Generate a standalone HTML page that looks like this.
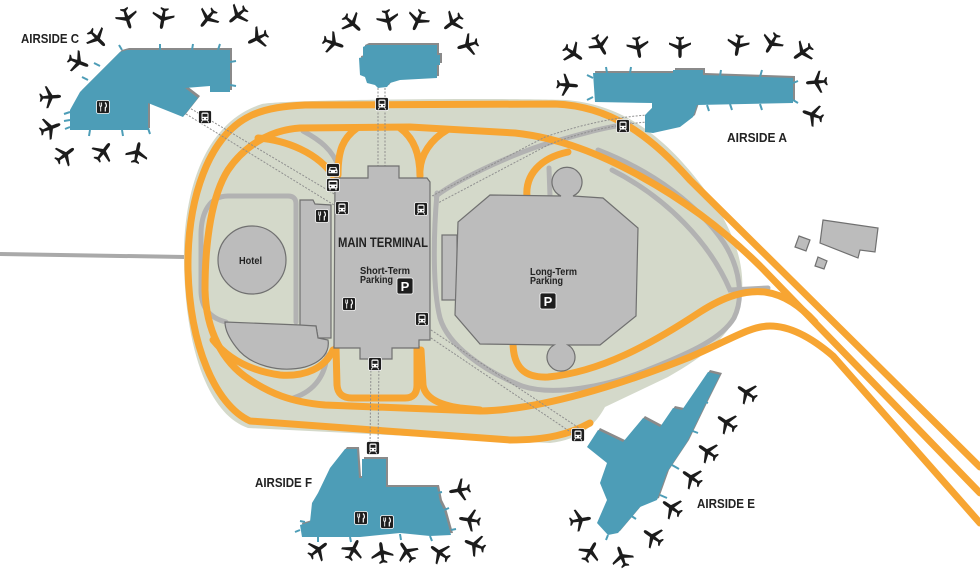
<!DOCTYPE html>
<html><head><meta charset="utf-8"><style>
html,body{margin:0;padding:0;background:#fff;}
svg{display:block;}
text{font-family:"Liberation Sans",Arial,sans-serif;font-weight:bold;fill:#222;}
</style></head><body>
<svg width="980" height="575" viewBox="0 0 980 575" xmlns="http://www.w3.org/2000/svg">
<defs>
<path id="pl" fill="#1c1c1c" d="M0,-11 C1.3,-11 1.7,-9.5 1.7,-7 L1.7,-2.5 L11,2.5 L11,4.5 L1.7,1.5 L1.2,7 L4,9 L4,10.5 L0,9.5 L-4,10.5 L-4,9 L-1.2,7 L-1.7,1.5 L-11,4.5 L-11,2.5 L-1.7,-2.5 L-1.7,-7 C-1.7,-9.5 -1.3,-11 0,-11 Z"/>
<g id="tr">
<rect x="-6.5" y="-6.5" width="13" height="13" rx="2" fill="#1e1e1e" stroke="#fff" stroke-width="0.8"/>
<rect x="-3.5" y="-4.5" width="7" height="8" rx="1.5" fill="#fff"/>
<rect x="-2.5" y="-3.2" width="5" height="3" fill="#1e1e1e"/>
<circle cx="-1.8" cy="1.6" r="0.7" fill="#1e1e1e"/><circle cx="1.8" cy="1.6" r="0.7" fill="#1e1e1e"/>
<path d="M-2.5,3.5 L-3.8,5.5 M2.5,3.5 L3.8,5.5" stroke="#fff" stroke-width="0.9"/>
</g>
<g id="rs">
<rect x="-6.5" y="-6.5" width="13" height="13" rx="2" fill="#1e1e1e" stroke="#fff" stroke-width="0.8"/>
<path d="M-3.2,-4.5 V-0.8 M-1.4,-4.5 V-0.8 M-3.2,-0.8 H-1.4 M-2.3,-0.8 V4.5" stroke="#fff" stroke-width="0.9" fill="none"/>
<path d="M2,-4.5 C3.8,-3 3.8,0 2.3,0.6 V4.5" stroke="#fff" stroke-width="1.2" fill="none"/>
</g>
<g id="car">
<rect x="-6.5" y="-6.5" width="13" height="13" rx="2" fill="#1e1e1e" stroke="#fff" stroke-width="0.8"/>
<path d="M-4.5,0.5 L-3.2,-3 H3.2 L4.5,0.5 V3.2 H-4.5 Z" fill="#fff"/>
<rect x="-2.6" y="-2.2" width="5.2" height="2" fill="#1e1e1e"/>
<circle cx="-2.8" cy="1.5" r="0.8" fill="#1e1e1e"/><circle cx="2.8" cy="1.5" r="0.8" fill="#1e1e1e"/>
</g>
<g id="bus">
<rect x="-6.5" y="-6.5" width="13" height="13" rx="2" fill="#1e1e1e" stroke="#fff" stroke-width="0.8"/>
<rect x="-4.5" y="-4.5" width="9" height="8" rx="1" fill="#fff"/>
<rect x="-3.5" y="-3" width="7" height="2.5" fill="#1e1e1e"/>
<circle cx="-2.5" cy="1.6" r="0.7" fill="#1e1e1e"/><circle cx="2.5" cy="1.6" r="0.7" fill="#1e1e1e"/>
<path d="M-3,3.5 V5.2 M3,3.5 V5.2" stroke="#fff" stroke-width="1.2"/>
</g>
</defs>

<rect width="980" height="575" fill="#fff"/>

<!-- entrance road -->
<path d="M0,254 L185,257 C196,257 201,250 201,238" stroke="#a9a9a9" stroke-width="4" fill="none"/>

<!-- land -->
<path d="M184,262 C183,190 205,122 262,104 C290,99 520,98 565,100 C625,104 668,140 705,190 C735,230 748,270 740,305 C732,335 705,356 668,377 L605,407 C596,424 580,440 550,443 L248,428 C205,413 185,340 184,262 Z" fill="#d4d9ca"/>

<!-- gray roads -->
<g stroke="#b2b2b2" stroke-width="5" fill="none" stroke-linecap="round">
<path d="M296,322 L296,204 Q296,196 288,196 L228,196 C210,196 201,212 201,235 L201,290 C201,308 210,318 226,322"/>
<path d="M303,131 C320,140 333,150 339,168"/>
<path d="M290,399 C312,393 325,378 327,355"/>
<path d="M437,193 C433,240 433,290 440,318 C448,345 482,370 522,386 C552,396 605,388 652,368 C692,352 722,338 734,318 C744,298 740,268 724,243 C700,207 655,172 598,150"/>
<path d="M436,196 C460,178 520,150 560,140 C585,133 605,127 630,124"/>
<path d="M612,170 C667,198 710,243 730,290 L768,288"/>
<path d="M549,168 L550,196"/>
</g>

<!-- orange roads -->
<g stroke="#f7a532" stroke-width="7" fill="none" stroke-linecap="round" stroke-linejoin="round">
<path d="M590,423 C570,434 548,440 510,440 L250,421 C215,405 190,345 188,270 C187,200 208,135 252,115 C268,108 285,106 305,105 L555,104 C610,106 650,135 690,180 L980,467"/>
<path d="M980,493 L762,268 C720,226 680,198 640,176 C600,154 560,138 515,133 L410,127 L300,128 C268,130 243,148 228,170 C212,195 205,240 205,290 C206,330 222,362 250,380 C270,393 290,402 325,405 L480,411 C540,410 620,385 690,357 C730,340 750,326 770,326 C790,326 812,338 833,356 L980,523"/>
<path d="M513,342 C513,368 525,378 548,377 C600,372 650,345 700,312 C725,296 745,290 765,292 C785,295 800,306 815,322"/>
<path d="M527,197 C525,175 540,158 568,152"/>
<path d="M357,128 C343,138 338,150 338,175"/>
<path d="M400,128 C414,138 420,155 420,176"/>
<path d="M447,130 C430,140 421,155 420,170"/>
<path d="M258,138 C285,140 318,152 335,178"/>
<path d="M213,340 C225,355 245,370 280,375 C305,377 325,368 333,350"/>
<path d="M336,348 L337,385 Q338,398 352,398 L405,398 Q417,398 417,385 L417,348"/>
<path d="M421,350 L423,385 C425,398 440,405 460,408 L480,410"/>
</g>

<!-- shuttle tracks -->
<g stroke="#8f8f8f" stroke-width="1" fill="none" stroke-dasharray="2,1.5">
<path d="M188,107 L336,195"/><path d="M186,114 L334,205"/>
<path d="M378,88 L378,166"/><path d="M385,88 L385,166"/>
<path d="M648,115 Q600,118 545,137 L432,196"/><path d="M648,122 Q602,125 550,144 L438,203"/>
<path d="M371,360 L370,448"/><path d="M379,360 L378,448"/>
<path d="M428,328 L585,432"/><path d="M428,336 L578,437"/>
</g>

<!-- buildings -->
<g fill="#bcbcbc" stroke="#707070" stroke-width="1.2">
<path d="M300,200 L313,200 L315,204 L331,205 L331,338 L318,338 L316,326 L300,326 Z"/>
<path d="M225,322 L300,325 L316,326 L318,338 L328,340 C330,352 322,362 305,367 C280,373 250,366 236,347 C229,338 225,330 225,322 Z"/>
<circle cx="252" cy="260" r="34"/>
<path d="M335,178 L368,178 L368,166 L399,166 L399,178 L427,178 L430,182 L430,340 L419,340 L419,348 L392,348 L392,359 L360,359 L360,348 L334,348 Z"/>
<rect x="442" y="235" width="15" height="65"/>
<path d="M490,195 L561,196 A15,15 0 1 1 573,196 L603,198 L638,228 L636,316 L600,345 L568,345 A14,14 0 1 1 554,345 L480,344 L455,315 L458,222 Z"/>
<path d="M823,220 L878,228 L875,252 L860,250 L858,258 L820,243 Z"/>
<path d="M799,236 L810,240 L806,251 L795,247 Z"/>
<path d="M818,257 L827,261 L824,269 L815,266 Z"/>
</g>

<!-- terminals: shadows -->
<g fill="#8a8a8a" transform="translate(2,-2)">
<path d="M127,50 L230,50 L230,92 L210,92 L210,86 L185,88 L198,98 L183,117 L148,103 L148,130 L70,130 L70,110 L80,92 L120,52 Z"/>
<path d="M367,45 L437,45 L437,55 L440,55 L440,65 L437,65 L437,78 L400,80 L390,83 L387,87 L378,88 L375,85 L367,83 L365,77 L360,75 L359,58 L363,57 L363,47 Z"/>
<path d="M593,73 L673,73 L673,70 L703,70 L703,75 L793,78 L793,103 L697,105 L693,117 L680,127 L653,133 L645,132 L645,115 L652,108 L652,103 L595,102 Z"/>
<path d="M345,449 L357,449 L359,478 L362,478 L362,459 L386,459 L386,487 L437,487 L440,502 L444,510 L451,535 L430,536 L400,533 L360,537 L302,537 L300,525 L310,522 L312,503 L318,493 L330,468 Z"/>
<path d="M708,372 L720,375 L705,405 L687,442 L667,472 L657,500 L640,507 L618,533 L608,535 L597,523 L607,500 L600,483 L607,463 L587,447 L598,430 L623,442 L643,418 L660,427 L673,408 L682,410 Z"/>
</g>
<!-- gate stubs -->
<g stroke="#4d9db7" stroke-width="2">
<path d="M70,112 L64,114 M70,120 L64,121 M70,127 L65,129 M90,130 L89,136 M122,130 L123,136 M148,128 L150,134 M88,80 L82,77 M100,66 L94,63 M122,50 L119,45 M160,50 L160,44 M192,50 L193,44 M218,50 L220,44 M230,62 L236,61 M230,85 L236,86"/>
<path d="M593,78 L587,75 M593,97 L587,100 M607,73 L606,67 M630,73 L631,67 M707,105 L709,111 M730,104 L732,110 M760,104 L762,110 M793,83 L798,81 M793,100 L798,103 M760,77 L762,70 M720,76 L721,70"/>
<path d="M300,530 L295,532 M305,522 L300,521 M318,537 L318,542 M350,537 L351,542 M400,534 L401,540 M430,536 L432,541 M451,530 L456,529 M444,510 L449,508 M437,493 L442,492"/>
<path d="M700,400 L708,403 M690,430 L698,433 M672,465 L679,469 M660,495 L667,498 M630,515 L636,519 M608,535 L606,540"/>
</g>
<!-- terminals: teal -->
<g fill="#4d9db7">
<path d="M127,50 L230,50 L230,92 L210,92 L210,86 L185,88 L198,98 L183,117 L148,103 L148,130 L70,130 L70,110 L80,92 L120,52 Z"/>
<path d="M367,45 L437,45 L437,55 L440,55 L440,65 L437,65 L437,78 L400,80 L390,83 L387,87 L378,88 L375,85 L367,83 L365,77 L360,75 L359,58 L363,57 L363,47 Z"/>
<path d="M593,73 L673,73 L673,70 L703,70 L703,75 L793,78 L793,103 L697,105 L693,117 L680,127 L653,133 L645,132 L645,115 L652,108 L652,103 L595,102 Z"/>
<path d="M345,449 L357,449 L359,478 L362,478 L362,459 L386,459 L386,487 L437,487 L440,502 L444,510 L451,535 L430,536 L400,533 L360,537 L302,537 L300,525 L310,522 L312,503 L318,493 L330,468 Z"/>
<path d="M708,372 L720,375 L705,405 L687,442 L667,472 L657,500 L640,507 L618,533 L608,535 L597,523 L607,500 L600,483 L607,463 L587,447 L598,430 L623,442 L643,418 L660,427 L673,408 L682,410 Z"/>
</g>

<!-- planes -->
<g>
<use href="#pl" transform="translate(127,18) rotate(162)"/>
<use href="#pl" transform="translate(163,18) rotate(190)"/>
<use href="#pl" transform="translate(208,18) rotate(219)"/>
<use href="#pl" transform="translate(238,15) rotate(230)"/>
<use href="#pl" transform="translate(258,38) rotate(244)"/>
<use href="#pl" transform="translate(97,38) rotate(135)"/>
<use href="#pl" transform="translate(78,62) rotate(111)"/>
<use href="#pl" transform="translate(50,97) rotate(86)"/>
<use href="#pl" transform="translate(50,128) rotate(69)"/>
<use href="#pl" transform="translate(65,155) rotate(53)"/>
<use href="#pl" transform="translate(103,152) rotate(37)"/>
<use href="#pl" transform="translate(137,153) rotate(12)"/>

<use href="#pl" transform="translate(333,43) rotate(109)"/>
<use href="#pl" transform="translate(352,23) rotate(132)"/>
<use href="#pl" transform="translate(388,20) rotate(167)"/>
<use href="#pl" transform="translate(418,20) rotate(204)"/>
<use href="#pl" transform="translate(453,22) rotate(232)"/>
<use href="#pl" transform="translate(468,45) rotate(254)"/>

<use href="#pl" transform="translate(573,53) rotate(125)"/>
<use href="#pl" transform="translate(600,45) rotate(150)"/>
<use href="#pl" transform="translate(638,47) rotate(170)"/>
<use href="#pl" transform="translate(680,47) rotate(180)"/>
<use href="#pl" transform="translate(738,45) rotate(190)"/>
<use href="#pl" transform="translate(772,43) rotate(210)"/>
<use href="#pl" transform="translate(803,52) rotate(235)"/>
<use href="#pl" transform="translate(817,82) rotate(265)"/>
<use href="#pl" transform="translate(813,115) rotate(290)"/>
<use href="#pl" transform="translate(567,85) rotate(95)"/>

<use href="#pl" transform="translate(460,490) rotate(260)"/>
<use href="#pl" transform="translate(470,520) rotate(279)"/>
<use href="#pl" transform="translate(475,545) rotate(292)"/>
<use href="#pl" transform="translate(318,550) rotate(52)"/>
<use href="#pl" transform="translate(353,550) rotate(26)"/>
<use href="#pl" transform="translate(382,553) rotate(-8)"/>
<use href="#pl" transform="translate(407,552) rotate(-34)"/>
<use href="#pl" transform="translate(440,553) rotate(-54)"/>

<use href="#pl" transform="translate(747,393) rotate(-55)"/>
<use href="#pl" transform="translate(727,423) rotate(-55)"/>
<use href="#pl" transform="translate(708,452) rotate(-55)"/>
<use href="#pl" transform="translate(692,478) rotate(-55)"/>
<use href="#pl" transform="translate(672,508) rotate(-55)"/>
<use href="#pl" transform="translate(653,537) rotate(-55)"/>
<use href="#pl" transform="translate(580,520) rotate(80)"/>
<use href="#pl" transform="translate(590,552) rotate(30)"/>
<use href="#pl" transform="translate(622,557) rotate(-20)"/>
</g>

<!-- icons -->
<use href="#tr" transform="translate(205,117)"/>
<use href="#tr" transform="translate(382,104)"/>
<use href="#tr" transform="translate(623,126)"/>
<use href="#tr" transform="translate(342,208)"/>
<use href="#tr" transform="translate(421,209)"/>
<use href="#tr" transform="translate(422,319)"/>
<use href="#tr" transform="translate(375,364)"/>
<use href="#tr" transform="translate(373,448)"/>
<use href="#tr" transform="translate(578,435)"/>
<use href="#car" transform="translate(333,170)"/>
<use href="#bus" transform="translate(333,185)"/>
<use href="#rs" transform="translate(103,107)"/>
<use href="#rs" transform="translate(322,216)"/>
<use href="#rs" transform="translate(349,304)"/>
<use href="#rs" transform="translate(361,518)"/>
<use href="#rs" transform="translate(387,522)"/>
<rect x="397" y="278" width="16" height="16" rx="2" fill="#1e1e1e" stroke="#fff" stroke-width="0.8"/>
<text x="405" y="291" text-anchor="middle" font-size="13" style="fill:#fff">P</text>
<rect x="540" y="293" width="16" height="16" rx="2" fill="#1e1e1e" stroke="#fff" stroke-width="0.8"/>
<text x="548" y="306" text-anchor="middle" font-size="13" style="fill:#fff">P</text>

<!-- labels -->
<text x="21" y="43" font-size="13" textLength="58" lengthAdjust="spacingAndGlyphs">AIRSIDE C</text>
<text x="727" y="142" font-size="13" textLength="60" lengthAdjust="spacingAndGlyphs">AIRSIDE A</text>
<text x="255" y="487" font-size="13" textLength="57" lengthAdjust="spacingAndGlyphs">AIRSIDE F</text>
<text x="697" y="508" font-size="13" textLength="58" lengthAdjust="spacingAndGlyphs">AIRSIDE E</text>
<text x="338" y="247" font-size="13.5" textLength="90" lengthAdjust="spacingAndGlyphs">MAIN TERMINAL</text>
<text x="360" y="274" font-size="10" textLength="50" lengthAdjust="spacingAndGlyphs">Short-Term</text>
<text x="360" y="283" font-size="10" textLength="33" lengthAdjust="spacingAndGlyphs">Parking</text>
<text x="239" y="264" font-size="10" textLength="23" lengthAdjust="spacingAndGlyphs">Hotel</text>
<text x="530" y="275" font-size="10" textLength="47" lengthAdjust="spacingAndGlyphs">Long-Term</text>
<text x="530" y="284" font-size="10" textLength="33" lengthAdjust="spacingAndGlyphs">Parking</text>
</svg>
</body></html>
